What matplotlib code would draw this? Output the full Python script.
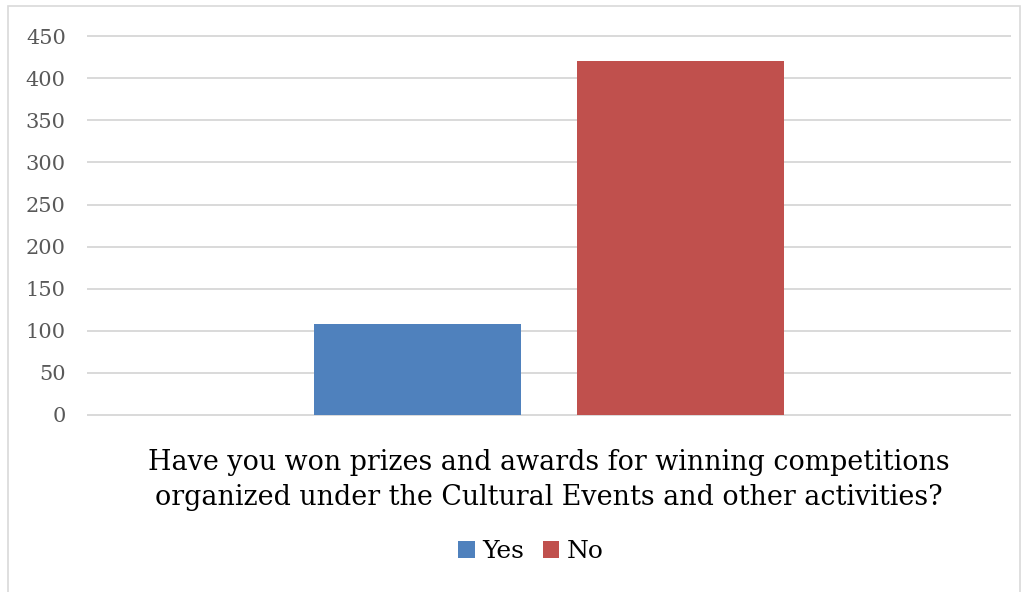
import numpy as np
import matplotlib
matplotlib.use('Agg')
from matplotlib import pyplot as plt
from matplotlib.patches import Rectangle

#  data
series = ['Yes', 'No']
values = [108, 421]
colors = ['#4F81BD', '#C0504D']
question = ('Have you won prizes and awards for winning competitions\n'
            'organized under the Cultural Events and other activities?')
yticks = np.arange(0, 451, 50)

plt.rcParams['font.family'] = ['DejaVu Serif']

fig = plt.figure(figsize=(10.29, 5.92), dpi=100)
ax = fig.add_axes([0.0855, 0.299, 0.896, 0.640])

#  chart border like excel
fig.patches.append(Rectangle((8 / 1029, -0.01), 1012 / 1029, 1 - 6 / 592 + 0.01,
                             transform=fig.transFigure, fill=False,
                             edgecolor='#D9D9D9', linewidth=1.2))

width = 0.2245
offsets = [-0.1426, 0.1426]
for name, v, c, off in zip(series, values, colors, offsets):
    ax.bar(off, v, width=width, color=c, label=name, zorder=3)

ax.set_xlim(-0.5, 0.5)
ax.set_ylim(0, 450)
ax.set_yticks(yticks)
ax.set_xticks([])
ax.yaxis.grid(True, color='#D9D9D9', linewidth=1.4, zorder=0)
for gl in ax.get_ygridlines():
    gl.set_clip_on(False)
ax.tick_params(axis='y', length=0, labelsize=15, labelcolor='#595959', pad=16)
for s in ax.spines.values():
    s.set_visible(False)

fig.text(0.5335, 0.190, question, ha='center', va='center', fontsize=19.4,
         linespacing=1.38, color='#000000')

fig.legend(loc='center', bbox_to_anchor=(0.516, 0.068), ncol=2, frameon=False,
           fontsize=18, handlelength=0.65, handleheight=0.65, handletextpad=0.3,
           columnspacing=0.75)

fig.savefig('out.png', dpi=100)
